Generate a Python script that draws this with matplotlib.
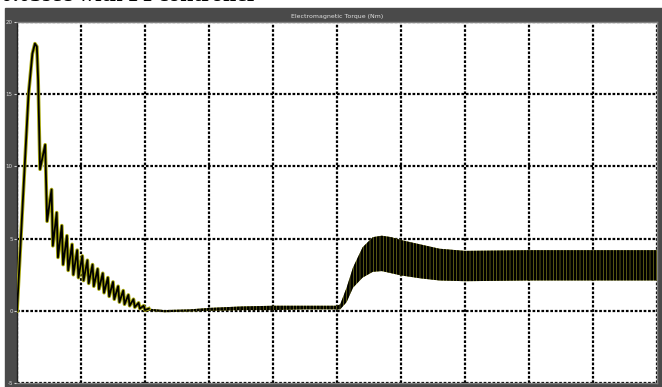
import numpy as np
import matplotlib
matplotlib.use('Agg')
import matplotlib.pyplot as plt
from matplotlib.patches import Rectangle

# start-up transient: sharp peak then a decaying sawtooth ripple
early_t = [0.000, 0.006, 0.012, 0.018, 0.024, 0.028, 0.031, 0.033, 0.036,
           0.044, 0.047, 0.054, 0.056, 0.062, 0.064, 0.070, 0.072, 0.078,
           0.080, 0.086, 0.088, 0.094, 0.096, 0.102, 0.104, 0.110, 0.112,
           0.118, 0.120, 0.126, 0.128, 0.134, 0.136, 0.142, 0.144, 0.150,
           0.152, 0.158, 0.160, 0.166, 0.168, 0.174, 0.176, 0.182, 0.184,
           0.190, 0.192, 0.198, 0.200, 0.206]
early_v = [0.0, 5.0, 10.0, 15.0, 17.8, 18.5, 18.3, 16.0, 9.8,
           11.5, 6.2, 8.4, 4.5, 6.8, 3.7, 5.9, 3.2, 5.2,
           2.8, 4.6, 2.5, 4.2, 2.3, 3.8, 2.1, 3.5, 1.9,
           3.2, 1.7, 2.9, 1.5, 2.6, 1.25, 2.3, 1.0, 2.0,
           0.8, 1.7, 0.6, 1.4, 0.45, 1.1, 0.35, 0.8, 0.25,
           0.55, 0.15, 0.35, 0.05, 0.15]

# ripple band after the transient (upper / lower envelope)
band_t = [0.206, 0.23, 0.27, 0.30, 0.35, 0.40, 0.45, 0.500, 0.505, 0.515,
          0.525, 0.540, 0.556, 0.570, 0.585, 0.600, 0.630, 0.660, 0.700,
          0.800, 0.900, 1.000]
band_hi = [0.15, 0.05, 0.1, 0.2, 0.3, 0.35, 0.35, 0.35, 0.45, 1.6,
           3.0, 4.4, 5.1, 5.2, 5.1, 4.9, 4.6, 4.3, 4.15,
           4.2, 4.2, 4.2]
band_lo = [0.0, -0.1, -0.05, 0.0, 0.05, 0.05, 0.1, 0.1, 0.1, 0.6,
           1.6, 2.3, 2.7, 2.75, 2.6, 2.45, 2.25, 2.1, 2.05,
           2.1, 2.1, 2.1]

y_ticks = [-5, 0, 5, 10, 15, 20]
x_ticks = [0.0, 0.1, 0.2, 0.3, 0.4, 0.5, 0.6, 0.7, 0.8, 0.9, 1.0]

W, H = 662, 387
plt.rcParams['hatch.linewidth'] = 2.0
fig = plt.figure(figsize=(W / 100, H / 100), dpi=100)
fig.patch.set_facecolor('white')

# dark scope frame, behind the axes
fig.patches.append(Rectangle((5 / W, 0), 1 - 5 / W, (H - 8) / H,
                             transform=fig.transFigure, color='#4a4a4a', zorder=-10))
# caption text of the page above, mostly cut off
fig.text(1 / W, 1 - 1.0 / H, '0.03sec with PI controller', fontsize=17,
         family='Liberation Serif', fontweight='bold', va='baseline', color='black')

ax = fig.add_axes([17 / W, 4 / H, 640 / W, 361 / H])
ax.set_zorder(2)
ax.set_facecolor('white')

ax.fill_between(band_t, band_lo, band_hi, facecolor='#9a9a22', edgecolor='black',
                hatch='|||||', linewidth=0, zorder=3)
ax.plot(early_t, early_v, color='#a8a810', lw=2.6, zorder=4)
ax.plot(early_t, early_v, color='black', lw=1.3, zorder=5)

ax.set_xlim(0, 1)
ax.set_ylim(-5, 20)
ax.set_xticks(x_ticks)
ax.set_yticks(y_ticks)
ax.set_yticklabels([str(v) for v in y_ticks])
ax.tick_params(axis='y', labelsize=4, colors='#d8d8d8', length=2, pad=1)
ax.tick_params(axis='x', labelbottom=False, length=0)
ax.grid(True, color='black', linestyle=(0, (1.2, 0.8)), linewidth=1.6, zorder=1)
ax.set_axisbelow(True)
for s in ax.spines.values():
    s.set_color('#808080')
    s.set_linewidth(1.0)
ax.spines['left'].set_color('#222222')

ax.set_title('Electromagnetic Torque (Nm)', fontsize=4.5, color='#e0e0e0', pad=3)

fig.savefig('out.png', dpi=100)
